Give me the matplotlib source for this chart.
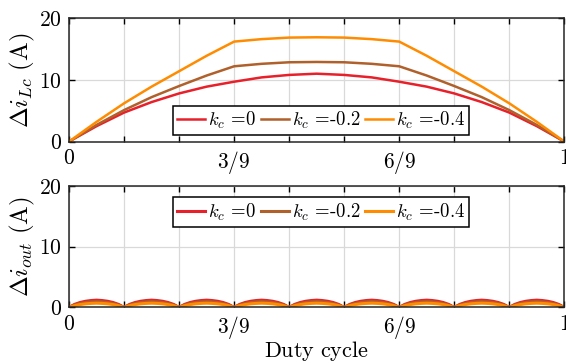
import numpy as np
import matplotlib
matplotlib.use('Agg')
import matplotlib.pyplot as plt

plt.rcParams['font.family'] = 'cmr10'
plt.rcParams['mathtext.fontset'] = 'cm'
plt.rcParams['axes.unicode_minus'] = False

# duty cycle samples (every 1/18)
duty = np.arange(19) / 18

# inductor current ripple
ripple_k0 = [0, 2.5, 4.7, 6.4, 7.8, 8.9, 9.7, 10.4, 10.8, 11.0,
             10.8, 10.4, 9.7, 8.9, 7.8, 6.4, 4.7, 2.5, 0]
ripple_k02 = [0, 2.7, 5.1, 7.2, 9.0, 10.7, 12.2, 12.6, 12.85, 12.9,
              12.85, 12.6, 12.2, 10.7, 9.0, 7.2, 5.1, 2.7, 0]
ripple_k04 = [0, 3.2, 6.2, 8.9, 11.4, 13.9, 16.2, 16.6, 16.85, 16.9,
              16.85, 16.6, 16.2, 13.9, 11.4, 8.9, 6.2, 3.2, 0]

# output current ripple: one arc per 1/9 interval
arc_pos = [0, 0.1, 0.2, 0.3, 0.4, 0.5, 0.6, 0.7, 0.8, 0.9, 1.0]
arc_shape = [0, 0.42, 0.68, 0.85, 0.95, 1.0, 0.95, 0.85, 0.68, 0.42, 0]
out_peak_k0 = [1.2] * 9
out_peak_k02 = [0.95] * 9
out_peak_k04 = [0.7] * 9

labels = [r'$k_c$ =0', r'$k_c$ =-0.2', r'$k_c$ =-0.4']
colors = ['#e8202a', '#b0602a', '#ff8c00']


def arcs(peaks):
    xs, ys = [], []
    for i, p in enumerate(peaks):
        for a, s in zip(arc_pos, arc_shape):
            xs.append((i + a) / 9)
            ys.append(p * s)
    return xs, ys


fig = plt.figure(figsize=(5.66, 3.63), dpi=100)
ax1 = fig.add_axes([0.122, 0.610, 0.875, 0.340])
ax2 = fig.add_axes([0.122, 0.153, 0.875, 0.335])

for ax in (ax1, ax2):
    ax.set_xlim(0, 1)
    ax.set_ylim(0, 20)
    ax.set_xticks(np.arange(10) / 9)
    ax.set_xticklabels(['$0$', '', '', '$3/9$', '', '', '$6/9$', '', '', '$1$'])
    ax.set_yticks([0, 10, 20])
    ax.set_yticklabels(['$0$', '$10$', '$20$'])
    ax.tick_params(direction='in', top=True, right=True, length=4, width=1,
                   labelsize=15.5, pad=5)
    ax.grid(True, color='#d9d9d9', linewidth=0.9)
    ax.set_axisbelow(True)
    for sp in ax.spines.values():
        sp.set_linewidth(1.1)
        sp.set_color('#262626')

for ys, lab, c in zip([ripple_k0, ripple_k02, ripple_k04], labels, colors):
    ax1.plot(duty, ys, color=c, lw=1.8, label=lab)

for peaks, lab, c in zip([out_peak_k0, out_peak_k02, out_peak_k04], labels, colors):
    xs, ys = arcs(peaks)
    ax2.plot(xs, ys, color=c, lw=2.2, label=lab)

ax1.set_ylabel(r'$\Delta i_{Lc}\ (\mathrm{A})$', fontsize=18, labelpad=2)
ax2.set_ylabel(r'$\Delta i_{out}\ (\mathrm{A})$', fontsize=18, labelpad=2)
ax2.set_xlabel(r'$\mathrm{Duty\ cycle}$', fontsize=16, labelpad=-2)

leg_kw = dict(ncol=3, fontsize=13.5, frameon=True, fancybox=False, handlelength=1.5,
              handletextpad=0.15, columnspacing=0.25, borderpad=0.22, borderaxespad=0)
leg1 = ax1.legend(loc='upper left', bbox_to_anchor=(0.21, 0.29), **leg_kw)
leg2 = ax2.legend(loc='upper left', bbox_to_anchor=(0.21, 0.905), **leg_kw)
for leg in (leg1, leg2):
    leg.get_frame().set_edgecolor('black')
    leg.get_frame().set_linewidth(1.1)
    leg.get_frame().set_alpha(1)

fig.savefig('out.png', dpi=100)
